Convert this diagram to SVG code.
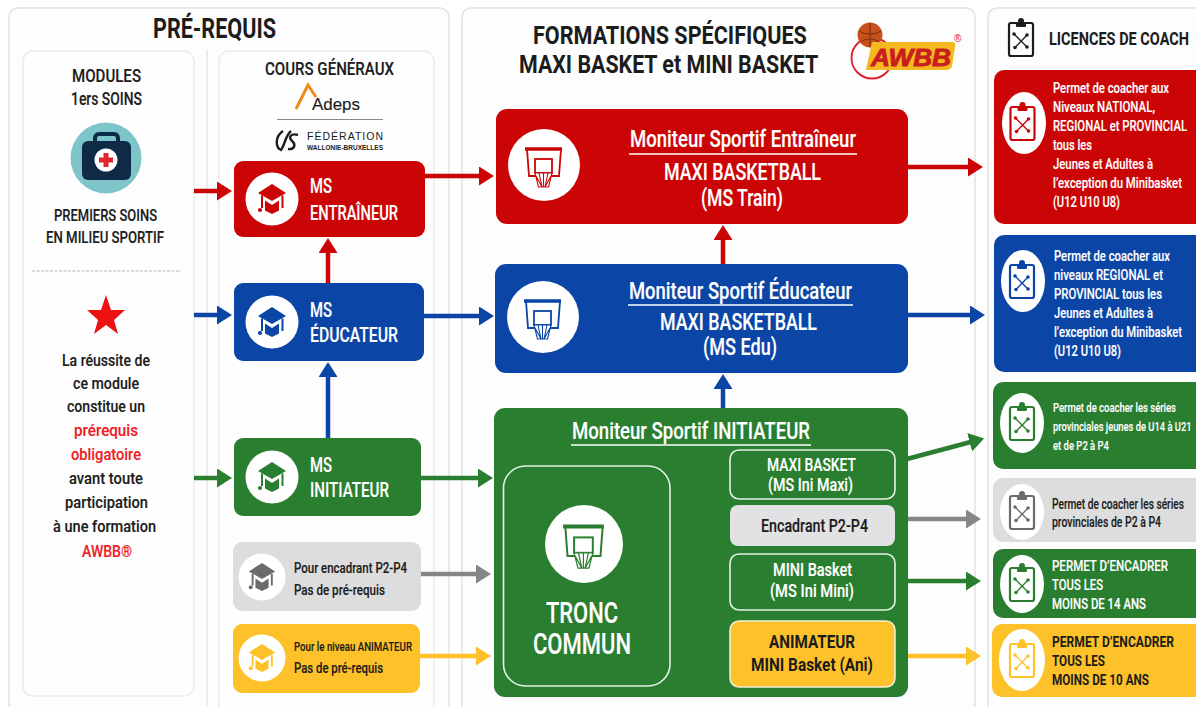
<svg xmlns="http://www.w3.org/2000/svg" width="1196" height="707" viewBox="0 0 1196 707">
<style>
text{font-family:Roboto,"Liberation Sans",sans-serif;font-weight:500;fill:#1c1c1c;stroke:#1c1c1c;stroke-width:.15}
.w text{fill:#fff;stroke:#fff}
text.red{fill:#ee1c25;stroke:#ee1c25}
.panel{fill:#fdfdfd;stroke:#e2e2e2;stroke-width:1.5}
.sub{fill:#fefefe;stroke:#ebebeb;stroke-width:1.5}
.r{fill:#cb0505}.b{fill:#0b46a6}.g{fill:#2a7e2f}.y{fill:#fdc229}.k{fill:#dddddd}
.disc{fill:#fff}
.cr{color:#cb0505}.cb{color:#0b46a6}.cg{color:#2a7e2f}.cy{color:#fdc229}.ck{color:#6b6b6b}
.a{fill:none;stroke-width:4.5}
.sr{stroke:#cb0505}.sb{stroke:#0b46a6}.sg{stroke:#2a7e2f}.sk{stroke:#868686}.sy{stroke:#fdc229}
.out{fill:none;stroke:#e6f0e6;stroke-width:1.6}
.rule{stroke:#fff;stroke-width:1.4}
text.hv{font-weight:700;stroke-width:0}
</style>
<defs>
<marker id="mr" viewBox="0 0 15 19" markerUnits="userSpaceOnUse" markerWidth="15" markerHeight="19" refX="3" refY="9.500" orient="auto"><path d="M0 0L15 9.500L0 19Z" fill="#cb0505"/></marker>
<marker id="mb" viewBox="0 0 15 19" markerUnits="userSpaceOnUse" markerWidth="15" markerHeight="19" refX="3" refY="9.500" orient="auto"><path d="M0 0L15 9.500L0 19Z" fill="#0b46a6"/></marker>
<marker id="mg" viewBox="0 0 15 19" markerUnits="userSpaceOnUse" markerWidth="15" markerHeight="19" refX="3" refY="9.500" orient="auto"><path d="M0 0L15 9.500L0 19Z" fill="#2a7e2f"/></marker>
<marker id="mk" viewBox="0 0 15 19" markerUnits="userSpaceOnUse" markerWidth="15" markerHeight="19" refX="3" refY="9.500" orient="auto"><path d="M0 0L15 9.500L0 19Z" fill="#868686"/></marker>
<marker id="my" viewBox="0 0 15 19" markerUnits="userSpaceOnUse" markerWidth="15" markerHeight="19" refX="3" refY="9.500" orient="auto"><path d="M0 0L15 9.500L0 19Z" fill="#fdc229"/></marker>
<symbol id="cap" viewBox="-16 -16 32 32" overflow="visible">
<path d="M0-15L14-6L0 2L-14-6Z" fill="currentColor"/>
<path d="M-7 1.500L0 6L7 1.500V11.500L0 15L-7 11.500Z" fill="currentColor"/>
<path d="M-10-3.500V9M10.500-3.500V9" fill="none" stroke="currentColor" stroke-width="2"/>
<circle cx="-12" cy="11" r="2.100" fill="currentColor"/>
</symbol>
<symbol id="hoop" viewBox="-20 -20 40 44" overflow="visible">
<path d="M-17-16L-15 11H15L17-16" fill="none" stroke="currentColor" stroke-width="1.800"/>
<path d="M-19-16H18" stroke="currentColor" stroke-width="3.600"/>
<rect x="-9" y="-6" width="17" height="14" fill="none" stroke="currentColor" stroke-width="1.800"/>
<path d="M-9 8H8L4.500 22H-5.500ZM-5 8L-2 22M-.5 8V22M4 8L1 22M-8 11L-2 22M7 11L1 22" fill="#fff" stroke="currentColor" stroke-width="1.100"/>
</symbol>
<symbol id="clip" viewBox="-13 -20 26 40" overflow="visible">
<rect x="-12" y="-16" width="24" height="33" rx="2" fill="none" stroke="currentColor" stroke-width="2.200"/>
<rect x="-5" y="-17" width="10" height="5" rx="1" fill="currentColor"/>
<circle cx="0" cy="-18" r="3" fill="currentColor"/>
<path d="M6-4L-6 8.500M-7-5L6 8" fill="none" stroke="currentColor" stroke-width="1.300"/>
<circle cx="6" cy="-4" r="1.800" fill="currentColor"/><circle cx="-7" cy="-5" r="1.800" fill="currentColor"/><circle cx="-6" cy="8.500" r="1.800" fill="currentColor"/><circle cx="6" cy="8" r="1.800" fill="currentColor"/>
</symbol>
</defs>
<rect width="1196" height="707" fill="#fff"/>

<g id="panels">
<rect class="panel" x="9" y="8" width="440" height="720" rx="9"/>
<rect class="panel" x="462" y="8" width="513" height="720" rx="9"/>
<rect class="panel" x="988" y="8" width="230" height="720" rx="9"/>
<rect class="sub" x="23" y="51" width="171" height="645" rx="10"/>
<path d="M207 50V707" stroke="#e6e6e6" stroke-width="1.500"/>
<rect class="sub" x="219" y="51" width="215" height="680" rx="10"/>
</g>

<g id="prerequis-head">
<text x="153" y="38" font-size="27" textLength="123" lengthAdjust="spacingAndGlyphs" class="hv">PRÉ-REQUIS</text>
</g>

<g id="modules">
<text x="72" y="82" font-size="19" textLength="69" lengthAdjust="spacingAndGlyphs">MODULES</text>
<text x="71" y="105" font-size="19" textLength="71" lengthAdjust="spacingAndGlyphs">1ers SOINS</text>
<circle cx="106" cy="158" r="35.500" fill="#7dc5c9"/>
<rect x="95" y="134" width="23" height="14" rx="4" fill="none" stroke="#0e2a47" stroke-width="4"/>
<rect x="82" y="141" width="49" height="39" rx="6" fill="#0e2a47"/>
<circle cx="106" cy="160" r="11.500" fill="#fff"/>
<path d="M106 153V167M99 160H113" stroke="#e0242c" stroke-width="5"/>
<text x="54" y="221" font-size="17" textLength="103" lengthAdjust="spacingAndGlyphs">PREMIERS SOINS</text>
<text x="46" y="243" font-size="17" textLength="118" lengthAdjust="spacingAndGlyphs">EN MILIEU SPORTIF</text>
<path d="M32 271H181" stroke="#b5b5b5" stroke-width="1" stroke-dasharray="3 1.500"/>
<path d="M106 295L111 310L125 310L114 320L118 334L106 325L94 334L98 320L87 310L101 310Z" fill="#ee1111"/>
<text x="62" y="366" font-size="17" textLength="88" lengthAdjust="spacingAndGlyphs">La réussite de</text>
<text x="73" y="389" font-size="17" textLength="66" lengthAdjust="spacingAndGlyphs">ce module</text>
<text x="67" y="412" font-size="17" textLength="78" lengthAdjust="spacingAndGlyphs">constitue un</text>
<text class="red" x="74" y="436" font-size="17" textLength="64" lengthAdjust="spacingAndGlyphs">prérequis</text>
<text class="red" x="71" y="460" font-size="17" textLength="70" lengthAdjust="spacingAndGlyphs">obligatoire</text>
<text x="69" y="484" font-size="17" textLength="74" lengthAdjust="spacingAndGlyphs">avant toute</text>
<text x="65" y="508" font-size="17" textLength="83" lengthAdjust="spacingAndGlyphs">participation</text>
<text x="53" y="532" font-size="17" textLength="103" lengthAdjust="spacingAndGlyphs">à une formation</text>
<text class="red" x="82" y="557" font-size="17" textLength="50" lengthAdjust="spacingAndGlyphs">AWBB®</text>
</g>

<g id="cours-generaux">
<text x="265" y="75" font-size="18.500" textLength="129" lengthAdjust="spacingAndGlyphs">COURS GÉNÉRAUX</text>
<path d="M296 109L308 85L316 97" fill="none" stroke="#f08a1d" stroke-width="3"/>
<text x="312" y="110" font-size="17" textLength="48" lengthAdjust="spacingAndGlyphs" style="font-family:'Liberation Sans',sans-serif">Adeps</text>
<path d="M277 119.500H383" stroke="#8a8a8a" stroke-width="1.200"/>
<path d="M283 131C274 137 276 148 281 150C285 145 285 136 291 131M298 135C291 133 288 137 292 141C296 144 295 150 288 149" fill="none" stroke="#1c1c1c" stroke-width="2.400"/>
<text x="307" y="140" font-size="10.500" textLength="76" style="font-family:'Liberation Sans',sans-serif;stroke-width:0">FÉDÉRATION</text>
<text x="307" y="150" font-size="7" textLength="76" lengthAdjust="spacingAndGlyphs" style="font-family:'Liberation Sans',sans-serif;font-weight:700;stroke-width:0">WALLONIE-BRUXELLES</text>
</g>

<g id="connectors">
<line class="a sr" x1="194" y1="191" x2="220" y2="191" marker-end="url(#mr)"/>
<line class="a sb" x1="194" y1="315" x2="220" y2="315" marker-end="url(#mb)"/>
<line class="a sg" x1="194" y1="478" x2="220" y2="478" marker-end="url(#mg)"/>
<line class="a sr" x1="328" y1="283" x2="328" y2="250" marker-end="url(#mr)"/>
<line class="a sb" x1="328" y1="438" x2="328" y2="374" marker-end="url(#mb)"/>
<line class="a sr" x1="425" y1="176" x2="482" y2="176" marker-end="url(#mr)"/>
<line class="a sb" x1="424" y1="316" x2="482" y2="316" marker-end="url(#mb)"/>
<line class="a sg" x1="421" y1="478" x2="481" y2="478" marker-end="url(#mg)"/>
<line class="a sk" x1="421" y1="574" x2="479" y2="574" marker-end="url(#mk)"/>
<line class="a sy" x1="420" y1="656" x2="479" y2="656" marker-end="url(#my)"/>
<line class="a sr" x1="723" y1="264" x2="723" y2="237" marker-end="url(#mr)"/>
<line class="a sb" x1="723" y1="408" x2="723" y2="386" marker-end="url(#mb)"/>
<line class="a sr" x1="908" y1="167" x2="971" y2="167" marker-end="url(#mr)"/>
<line class="a sb" x1="908" y1="315" x2="973" y2="315" marker-end="url(#mb)"/>
<line class="a sg" x1="907" y1="459" x2="972.500" y2="441.500" marker-end="url(#mg)"/>
<line class="a sk" x1="908" y1="519" x2="969" y2="519" marker-end="url(#mk)"/>
<line class="a sg" x1="908" y1="581" x2="969" y2="581" marker-end="url(#mg)"/>
<line class="a sy" x1="908" y1="656" x2="969" y2="656" marker-end="url(#my)"/>
</g>

<g id="ms-entraineur" class="w">
<rect class="r" x="234" y="161" width="191" height="76" rx="9"/>
<circle class="disc" cx="272" cy="199" r="26.500"/>
<use href="#cap" class="cr" x="256" y="183" width="32" height="32"/>
<text x="310" y="193" font-size="21" textLength="22" lengthAdjust="spacingAndGlyphs">MS</text>
<text x="310" y="220" font-size="21" textLength="88" lengthAdjust="spacingAndGlyphs">ENTRAÎNEUR</text>
</g>
<g id="ms-educateur" class="w">
<rect class="b" x="234" y="283" width="190" height="78" rx="9"/>
<circle class="disc" cx="272" cy="322" r="26.500"/>
<use href="#cap" class="cb" x="256" y="306" width="32" height="32"/>
<text x="310" y="317" font-size="21" textLength="22" lengthAdjust="spacingAndGlyphs">MS</text>
<text x="310" y="342" font-size="21" textLength="88" lengthAdjust="spacingAndGlyphs">ÉDUCATEUR</text>
</g>
<g id="ms-initiateur" class="w">
<rect class="g" x="234" y="438" width="187" height="78" rx="9"/>
<circle class="disc" cx="272" cy="477" r="26.500"/>
<use href="#cap" class="cg" x="256" y="461" width="32" height="32"/>
<text x="310" y="472" font-size="21" textLength="22" lengthAdjust="spacingAndGlyphs">MS</text>
<text x="310" y="497" font-size="21" textLength="79" lengthAdjust="spacingAndGlyphs">INITIATEUR</text>
</g>
<g id="pour-encadrant">
<rect class="k" x="233" y="542" width="188" height="69" rx="9"/>
<circle class="disc" cx="262" cy="577" r="23.500"/>
<use href="#cap" class="ck" x="247" y="562" width="30" height="30"/>
<text x="294" y="573" font-size="14.500" textLength="113" lengthAdjust="spacingAndGlyphs">Pour encadrant P2-P4</text>
<text x="294" y="595" font-size="14.500" textLength="91" lengthAdjust="spacingAndGlyphs">Pas de pré-requis</text>
</g>
<g id="pour-animateur">
<rect class="y" x="233" y="624" width="187" height="69" rx="9"/>
<circle class="disc" cx="262" cy="658" r="23.500"/>
<use href="#cap" class="cy" x="247" y="643" width="30" height="30"/>
<text x="294" y="651" font-size="13.500" textLength="118" lengthAdjust="spacingAndGlyphs">Pour le niveau ANIMATEUR</text>
<text x="294" y="673" font-size="14.500" textLength="89" lengthAdjust="spacingAndGlyphs">Pas de pré-requis</text>
</g>

<g id="formations-head">
<text class="hv" transform="translate(533 44) scale(.82 1)" font-size="26.500" textLength="334" lengthAdjust="spacingAndGlyphs">FORMATIONS SPÉCIFIQUES</text>
<text class="hv" transform="translate(519 73) scale(.82 1)" font-size="26.500" textLength="365" lengthAdjust="spacingAndGlyphs">MAXI BASKET et MINI BASKET</text>
</g>
<g id="awbb-logo">
<circle cx="872" cy="58" r="20.500" fill="none" stroke="#d8202a" stroke-width="1.800"/>
<circle cx="870" cy="35" r="12.500" fill="#c8501c"/>
<path d="M859 31C865 35 875 35 881 31M870 23V47M861 42C865 38 875 38 879 42" fill="none" stroke="#7a2a10" stroke-width="1"/>
<path d="M872 42H951C955 42 956 44 955 47L952 66C951 69 949 70 946 70H866Z" fill="#f5b81e"/>
<text x="871" y="66" font-size="24" textLength="80" lengthAdjust="spacingAndGlyphs" style="font-family:'Liberation Sans',sans-serif;font-weight:700;font-style:italic;fill:#c81e1e;stroke:#c81e1e;stroke-width:.9">AWBB</text>
<text x="954" y="42" font-size="10" style="font-family:'Liberation Sans',sans-serif;fill:#d8202a;stroke-width:0">®</text>
</g>

<g id="moniteur-entraineur" class="w">
<rect class="r" x="496" y="109" width="412" height="115" rx="11"/>
<circle class="disc" cx="544" cy="165" r="36"/>
<use href="#hoop" class="cr" x="524" y="145" width="40" height="44"/>
<text x="630" y="147" font-size="23" textLength="226" lengthAdjust="spacingAndGlyphs">Moniteur Sportif Entraîneur</text>
<line class="rule" x1="629" y1="154" x2="857" y2="154"/>
<text x="664" y="180" font-size="23" textLength="157" lengthAdjust="spacingAndGlyphs">MAXI BASKETBALL</text>
<text x="701" y="206" font-size="23" textLength="82" lengthAdjust="spacingAndGlyphs">(MS Train)</text>
</g>
<g id="moniteur-educateur" class="w">
<rect class="b" x="495" y="264" width="413" height="109" rx="11"/>
<circle class="disc" cx="543" cy="317" r="36"/>
<use href="#hoop" class="cb" x="523" y="297" width="40" height="44"/>
<text x="629" y="299" font-size="23" textLength="223" lengthAdjust="spacingAndGlyphs">Moniteur Sportif Éducateur</text>
<line class="rule" x1="628" y1="305" x2="853" y2="305"/>
<text x="660" y="330" font-size="23" textLength="157" lengthAdjust="spacingAndGlyphs">MAXI BASKETBALL</text>
<text x="703" y="355" font-size="23" textLength="74" lengthAdjust="spacingAndGlyphs">(MS Edu)</text>
</g>
<g id="moniteur-initiateur" class="w">
<rect class="g" x="494" y="408" width="414" height="289" rx="11"/>
<text x="572" y="439" font-size="23" textLength="238" lengthAdjust="spacingAndGlyphs">Moniteur Sportif INITIATEUR</text>
<line class="rule" x1="571" y1="445" x2="811" y2="445"/>
</g>
<g id="tronc-commun" class="w">
<rect class="out" x="503.500" y="466" width="166.500" height="220" rx="22"/>
<circle class="disc" cx="584" cy="544" r="39"/>
<use href="#hoop" class="cg" x="562" y="522" width="44" height="48.400"/>
<text x="546" y="623" font-size="29" textLength="72" lengthAdjust="spacingAndGlyphs">TRONC</text>
<text x="533" y="654" font-size="29" textLength="98" lengthAdjust="spacingAndGlyphs">COMMUN</text>
</g>
<g id="ini-maxi" class="w">
<rect class="out" x="730" y="450" width="165" height="49" rx="9"/>
<text x="767" y="471" font-size="17.500" textLength="89" lengthAdjust="spacingAndGlyphs">MAXI BASKET</text>
<text x="768" y="491" font-size="17.500" textLength="85" lengthAdjust="spacingAndGlyphs">(MS Ini Maxi)</text>
</g>
<g id="ini-encadrant">
<rect x="730" y="505" width="165" height="41" rx="8" fill="#e2e2e4"/>
<text x="761" y="532" font-size="17.500" textLength="107" lengthAdjust="spacingAndGlyphs">Encadrant P2-P4</text>
</g>
<g id="ini-mini" class="w">
<rect class="out" x="730" y="554" width="165" height="56" rx="9"/>
<text x="773" y="576" font-size="17.500" textLength="79" lengthAdjust="spacingAndGlyphs">MINI Basket</text>
<text x="770" y="597" font-size="17.500" textLength="84" lengthAdjust="spacingAndGlyphs">(MS Ini Mini)</text>
</g>
<g id="ini-animateur">
<rect class="y" x="730" y="621" width="165" height="66" rx="9" stroke="#f3f0d8" stroke-width="1.500"/>
<text class="hv" x="769" y="648" font-size="18" textLength="86" lengthAdjust="spacingAndGlyphs">ANIMATEUR</text>
<text class="hv" x="751" y="671" font-size="18" textLength="122" lengthAdjust="spacingAndGlyphs">MINI Basket (Ani)</text>
</g>

<g id="licences-head">
<use href="#clip" x="1008" y="19" width="26" height="40" style="color:#1c1c1c"/>
<text class="hv" transform="translate(1049 45) scale(.8 1)" font-size="19" textLength="175" lengthAdjust="spacingAndGlyphs">LICENCES DE COACH</text>
</g>
<g id="lic-red" class="w">
<rect class="r" x="994" y="70" width="220" height="154" rx="10"/>
<ellipse class="disc" cx="1024" cy="123" rx="22" ry="31"/>
<use href="#clip" class="cr" x="1009.500" y="103" width="26" height="40"/>
<text transform="translate(1053 93) scale(.8 1)" font-size="14.500" textLength="145" lengthAdjust="spacingAndGlyphs">Permet de coacher aux</text>
<text transform="translate(1053 112) scale(.8 1)" font-size="14.500" textLength="127.500" lengthAdjust="spacingAndGlyphs">Niveaux NATIONAL,</text>
<text transform="translate(1053 131) scale(.8 1)" font-size="14.500" textLength="167.500" lengthAdjust="spacingAndGlyphs">REGIONAL et PROVINCIAL</text>
<text transform="translate(1053 150) scale(.8 1)" font-size="14.500" textLength="48.750" lengthAdjust="spacingAndGlyphs">tous les</text>
<text transform="translate(1053 169) scale(.8 1)" font-size="14.500" textLength="125" lengthAdjust="spacingAndGlyphs">Jeunes et Adultes à</text>
<text transform="translate(1053 188) scale(.8 1)" font-size="14.500" textLength="161.250" lengthAdjust="spacingAndGlyphs">l’exception du Minibasket</text>
<text transform="translate(1053 207) scale(.8 1)" font-size="14.500" textLength="83.750" lengthAdjust="spacingAndGlyphs">(U12 U10 U8)</text>
</g>
<g id="lic-blue" class="w">
<rect class="b" x="994" y="235" width="220" height="137" rx="10"/>
<ellipse class="disc" cx="1023" cy="281" rx="22" ry="31"/>
<use href="#clip" class="cb" x="1009" y="261" width="26" height="40"/>
<text transform="translate(1054 261) scale(.8 1)" font-size="14.500" textLength="145" lengthAdjust="spacingAndGlyphs">Permet de coacher aux</text>
<text transform="translate(1054 280) scale(.8 1)" font-size="14.500" textLength="136.250" lengthAdjust="spacingAndGlyphs">niveaux REGIONAL et</text>
<text transform="translate(1054 299) scale(.8 1)" font-size="14.500" textLength="135" lengthAdjust="spacingAndGlyphs">PROVINCIAL tous les</text>
<text transform="translate(1054 318) scale(.8 1)" font-size="14.500" textLength="123.750" lengthAdjust="spacingAndGlyphs">Jeunes et Adultes à</text>
<text transform="translate(1054 337) scale(.8 1)" font-size="14.500" textLength="160" lengthAdjust="spacingAndGlyphs">l’exception du Minibasket</text>
<text transform="translate(1054 356) scale(.8 1)" font-size="14.500" textLength="83.750" lengthAdjust="spacingAndGlyphs">(U12 U10 U8)</text>
</g>
<g id="lic-green-1" class="w">
<rect class="g" x="993" y="382" width="220" height="87" rx="10"/>
<ellipse class="disc" cx="1022" cy="423" rx="22" ry="30"/>
<use href="#clip" class="cg" x="1009" y="403" width="26" height="40"/>
<text transform="translate(1053 412) scale(.8 1)" font-size="13.500" textLength="153.750" lengthAdjust="spacingAndGlyphs">Permet de coacher les séries</text>
<text transform="translate(1053 431) scale(.7 1)" font-size="13.500" textLength="198" lengthAdjust="spacingAndGlyphs">provinciales jeunes de U14 à U21</text>
<text transform="translate(1053 450) scale(.8 1)" font-size="13.500" textLength="70" lengthAdjust="spacingAndGlyphs">et de P2 à P4</text>
</g>
<g id="lic-grey">
<rect class="k" x="993" y="478" width="220" height="64" rx="10"/>
<ellipse class="disc" cx="1022" cy="512" rx="22" ry="28"/>
<use href="#clip" class="ck" x="1009" y="492" width="26" height="40"/>
<text transform="translate(1052 509) scale(.8 1)" font-size="14" textLength="165" lengthAdjust="spacingAndGlyphs">Permet de coacher les séries</text>
<text transform="translate(1052 527) scale(.8 1)" font-size="14" textLength="136.250" lengthAdjust="spacingAndGlyphs">provinciales de P2 à P4</text>
</g>
<g id="lic-green-2" class="w">
<rect class="g" x="993" y="549" width="220" height="69" rx="10"/>
<ellipse class="disc" cx="1022" cy="584" rx="22" ry="29"/>
<use href="#clip" class="cg" x="1009" y="564" width="26" height="40"/>
<text transform="translate(1052 571) scale(.8 1)" font-size="15.500" textLength="145" lengthAdjust="spacingAndGlyphs">PERMET D’ENCADRER</text>
<text transform="translate(1052 590) scale(.8 1)" font-size="15.500" textLength="63.750" lengthAdjust="spacingAndGlyphs">TOUS LES</text>
<text transform="translate(1052 609) scale(.8 1)" font-size="15.500" textLength="117.500" lengthAdjust="spacingAndGlyphs">MOINS DE 14 ANS</text>
</g>
<g id="lic-yellow">
<rect class="y" x="992" y="624" width="220" height="73" rx="10"/>
<ellipse class="disc" cx="1022" cy="660" rx="23" ry="31"/>
<use href="#clip" class="cy" x="1009" y="640" width="26" height="40"/>
<text class="hv" transform="translate(1052 647) scale(.8 1)" font-size="15.500" textLength="152.500" lengthAdjust="spacingAndGlyphs">PERMET D’ENCADRER</text>
<text class="hv" transform="translate(1052 666) scale(.8 1)" font-size="15.500" textLength="66.250" lengthAdjust="spacingAndGlyphs">TOUS LES</text>
<text class="hv" transform="translate(1052 685) scale(.8 1)" font-size="15.500" textLength="121.250" lengthAdjust="spacingAndGlyphs">MOINS DE 10 ANS</text>
</g>
</svg>
